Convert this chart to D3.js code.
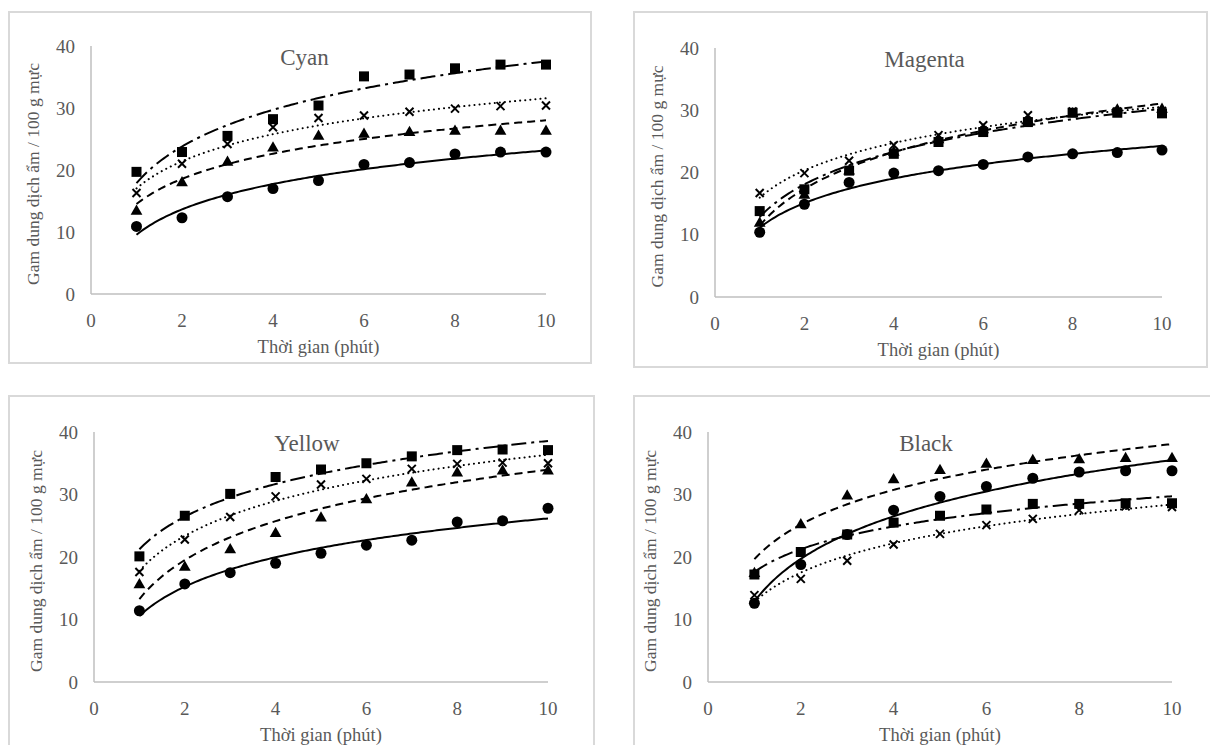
<!DOCTYPE html>
<html lang="vi">
  <head>
    <meta charset="UTF-8" />
    <title>Gam dung dịch ẩm</title>
    <style>
      body { margin: 0; background: #fff; }
      svg { display: block; }
      .frame { fill: #fff; stroke: #d9d9d9; stroke-width: 2; }
      .axis-line { stroke: #bfbfbf; stroke-width: 1.5; }
      .tick-label { font-family: "Liberation Serif", "Times New Roman", serif; font-size: 19px; fill: #595959; }
      .axis-title { font-family: "Liberation Serif", "Times New Roman", serif; font-size: 18.5px; fill: #595959; }
      .y-title { font-family: "Liberation Serif", "Times New Roman", serif; font-size: 17.5px; fill: #595959; }
      .chart-title { font-family: "Liberation Serif", "Times New Roman", serif; font-size: 23px; fill: #595959; }
      .trend { fill: none; stroke: #000; stroke-width: 2; }
    </style>
  </head>
  <body>
    <svg width="1210" height="745"></svg>
    <script src="https://d3js.org/d3.v7.min.js"></script>
    <script>
      // thời gian (phút)
      const minutes = [1, 2, 3, 4, 5, 6, 7, 8, 9, 10];
      const xTicks = [0, 2, 4, 6, 8, 10];
      const yTicks = [0, 10, 20, 30, 40];

      // Cyan
      const cyanCircle = [10.9, 12.3, 15.7, 17.0, 18.3, 20.9, 21.2, 22.6, 22.9, 22.9];
      const cyanTriangle = [13.5, 18.1, 21.4, 23.7, 25.6, 25.9, 26.2, 26.4, 26.4, 26.4];
      const cyanCross = [16.3, 21.0, 24.2, 26.9, 28.4, 28.8, 29.4, 29.9, 30.3, 30.4];
      const cyanSquare = [19.7, 22.9, 25.5, 28.2, 30.4, 35.1, 35.4, 36.4, 37.0, 37.0];

      // Magenta
      const magentaCircle = [10.4, 14.9, 18.4, 19.9, 20.3, 21.3, 22.5, 23.0, 23.2, 23.6];
      const magentaTriangle = [12.0, 16.5, 20.4, 23.4, 25.4, 27.0, 28.5, 29.6, 30.2, 30.3];
      const magentaCross = [16.7, 19.9, 21.9, 24.4, 26.0, 27.6, 29.2, 29.8, 29.8, 29.9];
      const magentaSquare = [13.8, 17.3, 20.3, 23.0, 24.9, 26.5, 28.1, 29.6, 29.6, 29.5];

      // Yellow
      const yellowCircle = [11.4, 15.7, 17.5, 19.0, 20.6, 21.9, 22.7, 25.6, 25.8, 27.8];
      const yellowTriangle = [15.7, 18.5, 21.3, 23.9, 26.4, 29.3, 32.0, 33.6, 33.9, 33.9];
      const yellowCross = [17.6, 22.8, 26.4, 29.7, 31.6, 32.5, 34.1, 34.9, 35.1, 35.0];
      const yellowSquare = [20.1, 26.6, 30.1, 32.8, 34.0, 35.0, 36.1, 37.1, 37.2, 37.1];

      // Black
      const blackCircle = [12.6, 18.8, 23.6, 27.5, 29.7, 31.3, 32.6, 33.6, 33.8, 33.8];
      const blackTriangle = [17.5, 25.3, 29.9, 32.5, 34.0, 35.0, 35.6, 35.7, 35.9, 35.9];
      const blackCross = [13.9, 16.5, 19.4, 22.0, 23.7, 25.1, 26.1, 27.5, 28.1, 28.0];
      const blackSquare = [17.2, 20.8, 23.6, 25.5, 26.6, 27.6, 28.5, 28.5, 28.6, 28.6];

      const svg = d3.select("svg");

      // khung và vị trí trục của từng biểu đồ
      const panels = [
        { title: "Cyan", box: [9, 12, 582, 351], left: 91, right: 546, top: 46, bottom: 294,
          series: [cyanCircle, cyanTriangle, cyanCross, cyanSquare] },
        { title: "Magenta", box: [634, 12, 573, 355], left: 715, right: 1162, top: 48, bottom: 297,
          series: [magentaCircle, magentaTriangle, magentaCross, magentaSquare] },
        { title: "Yellow", box: [9, 396, 585, 360], left: 94, right: 548, top: 432, bottom: 682,
          series: [yellowCircle, yellowTriangle, yellowCross, yellowSquare] },
        { title: "Black", box: [634, 396, 590, 360], left: 708, right: 1172, top: 432, bottom: 682,
          series: [blackCircle, blackTriangle, blackCross, blackSquare] }
      ];

      // kiểu đường xu hướng: tròn, tam giác, chéo, vuông
      const styles = [
        { shape: "circle", dash: null },
        { shape: "triangle", dash: "8,5" },
        { shape: "cross", dash: "0.1,5" },
        { shape: "square", dash: "15,5,3,5" }
      ];

      // hồi quy logarit y = a ln(x) + b
      function logFit(xs, ys) {
        const lx = xs.map(Math.log);
        const mx = d3.mean(lx), my = d3.mean(ys);
        let num = 0, den = 0;
        lx.forEach((v, i) => {
          num += (v - mx) * (ys[i] - my);
          den += (v - mx) * (v - mx);
        });
        const a = num / den;
        const b = my - a * mx;
        return (x) => a * Math.log(x) + b;
      }

      panels.forEach((p) => {
        const g = svg.append("g");
        g.append("rect").attr("class", "frame")
          .attr("x", p.box[0]).attr("y", p.box[1])
          .attr("width", p.box[2]).attr("height", p.box[3]);

        const x = d3.scaleLinear().domain([0, 10]).range([p.left, p.right]);
        const y = d3.scaleLinear().domain([0, 40]).range([p.bottom, p.top]);

        g.append("line").attr("class", "axis-line")
          .attr("x1", x(0)).attr("x2", x(0)).attr("y1", y(0)).attr("y2", y(40));
        g.append("line").attr("class", "axis-line")
          .attr("x1", x(0)).attr("x2", x(10)).attr("y1", y(0)).attr("y2", y(0));

        g.selectAll(".ylab").data(yTicks).enter().append("text")
          .attr("class", "tick-label")
          .attr("x", x(0) - 16).attr("y", (d) => y(d))
          .attr("dy", "0.35em").attr("text-anchor", "end")
          .text((d) => d);
        g.selectAll(".xlab").data(xTicks).enter().append("text")
          .attr("class", "tick-label")
          .attr("x", (d) => x(d)).attr("y", y(0) + 26)
          .attr("dy", "0.35em").attr("text-anchor", "middle")
          .text((d) => d);

        g.append("text").attr("class", "axis-title")
          .attr("x", (x(0) + x(10)) / 2).attr("y", y(0) + 53)
          .attr("dy", "0.35em").attr("text-anchor", "middle")
          .text("Thời gian (phút)");
        g.append("text").attr("class", "y-title")
          .attr("transform", "translate(" + (x(0) - 58) + "," + ((y(0) + y(40)) / 2 + 4) + ") rotate(-90)")
          .attr("dy", "0.35em").attr("text-anchor", "middle")
          .text("Gam dung dịch ẩm / 100 g mực");
        g.append("text").attr("class", "chart-title")
          .attr("x", (x(0) + x(10)) / 2 - 14).attr("y", y(38.3))
          .attr("dy", "0.35em").attr("text-anchor", "middle")
          .text(p.title);

        p.series.forEach((vals, i) => {
          const st = styles[i];
          const f = logFit(minutes, vals);
          const pts = d3.range(1, 10.001, 0.05).map((t) => ({ t: t, v: f(t) }));
          const path = g.append("path").attr("class", "trend")
            .attr("d", d3.line().x((d) => x(d.t)).y((d) => y(d.v))(pts));
          if (st.dash) path.attr("stroke-dasharray", st.dash);
          if (st.shape === "cross") path.attr("stroke-linecap", "round").attr("stroke-width", 3);

          const mg = g.append("g");
          vals.forEach((v, k) => {
            const cx = x(minutes[k]), cy = y(v);
            if (st.shape === "circle") {
              mg.append("circle").attr("cx", cx).attr("cy", cy).attr("r", 5.5).attr("fill", "#000");
            } else if (st.shape === "square") {
              mg.append("rect").attr("x", cx - 5).attr("y", cy - 5)
                .attr("width", 10).attr("height", 10).attr("fill", "#000");
            } else if (st.shape === "triangle") {
              mg.append("path").attr("fill", "#000")
                .attr("d", d3.symbol().type(d3.symbolTriangle).size(60)())
                .attr("transform", "translate(" + cx + "," + (cy + 1) + ")");
            } else {
              mg.append("path").attr("fill", "none").attr("stroke", "#000").attr("stroke-width", 2)
                .attr("d", "M-4,-4L4,4M-4,4L4,-4")
                .attr("transform", "translate(" + cx + "," + cy + ")");
            }
          });
        });
      });
    </script>
  </body>
</html>
